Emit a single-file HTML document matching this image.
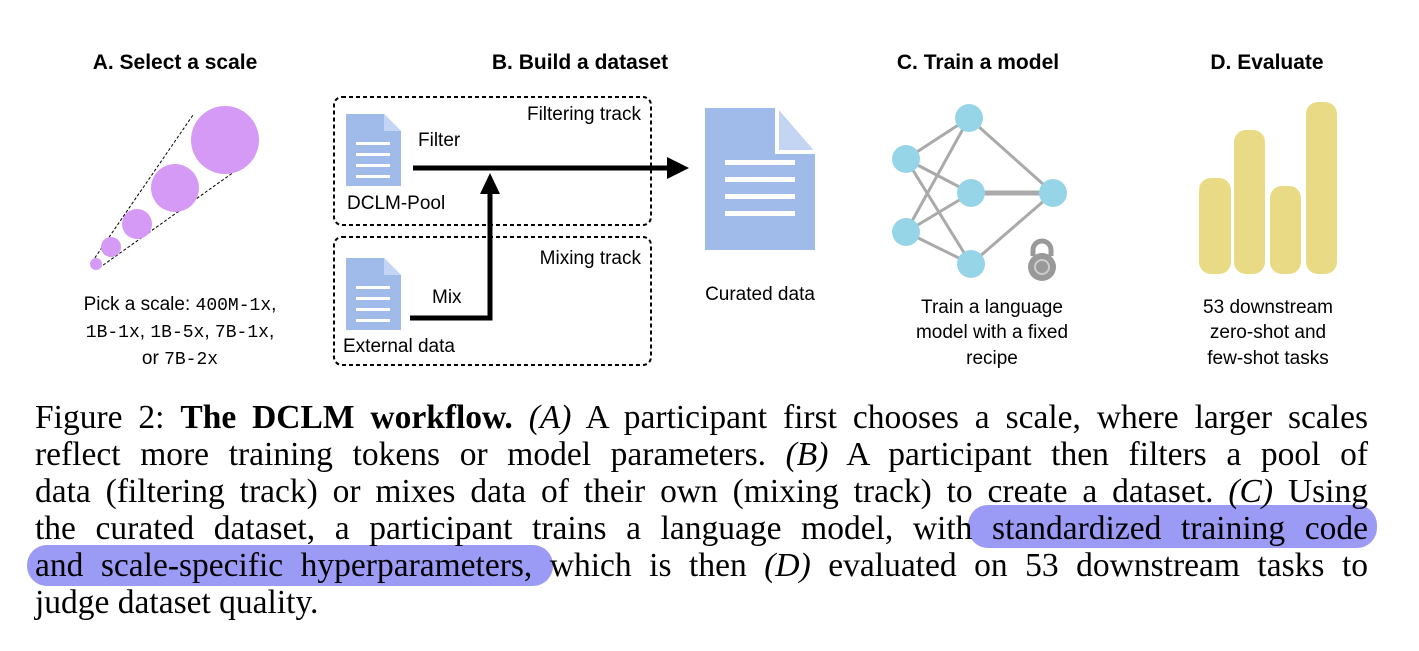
<!DOCTYPE html>
<html><head><meta charset="utf-8"><style>
body{margin:0;width:1419px;height:651px;background:#fff;position:relative;overflow:hidden;font-family:"Liberation Sans",sans-serif;}
svg{position:absolute;left:0;top:0}
.cap{position:absolute;left:35px;width:1333px;font-family:"Liberation Serif",serif;font-size:33.5px;line-height:37px;color:#000;white-space:nowrap;text-align:justify;text-align-last:justify;}
.hl{position:absolute;background:#9b9bf6;border-radius:20px;}
</style></head><body>
<div class="hl" style="left:968px;top:505px;width:409px;height:43px"></div>
<div class="hl" style="left:27px;top:545px;width:526px;height:41px"></div>
<svg width="1419" height="651" viewBox="0 0 1419 651" font-family="Liberation Sans, sans-serif">
<g font-weight="bold" font-size="21" text-anchor="middle">
<text x="175" y="69">A. Select a scale</text>
<text x="580" y="69">B. Build a dataset</text>
<text x="978" y="69">C. Train a model</text>
<text x="1267" y="69">D. Evaluate</text>
</g>
<line x1="92" y1="262" x2="193" y2="115" stroke="#000" stroke-dasharray="3,2" stroke-width="1"/>
<line x1="99" y1="268" x2="248" y2="162" stroke="#000" stroke-dasharray="3,2" stroke-width="1"/>
<g fill="#d59af5">
<circle cx="225" cy="140" r="34"/><circle cx="175" cy="188" r="24"/><circle cx="137" cy="224" r="15"/><circle cx="111" cy="247" r="10"/><circle cx="96" cy="264" r="6"/>
</g>
<g font-size="19" text-anchor="middle">
<text x="180" y="310">Pick a scale: <tspan font-family="Liberation Mono, monospace" font-size="18">400M-1x</tspan>,</text>
<text x="180" y="337"><tspan font-family="Liberation Mono, monospace" font-size="18">1B-1x</tspan>, <tspan font-family="Liberation Mono, monospace" font-size="18">1B-5x</tspan>, <tspan font-family="Liberation Mono, monospace" font-size="18">7B-1x</tspan>,</text>
<text x="180" y="364">or <tspan font-family="Liberation Mono, monospace" font-size="18">7B-2x</tspan></text>
</g>
<rect x="334" y="97" width="317" height="128" rx="8" fill="none" stroke="#000" stroke-width="2" stroke-dasharray="4,3"/>
<rect x="334" y="237" width="317" height="128" rx="8" fill="none" stroke="#000" stroke-width="2" stroke-dasharray="4,3"/>
<g fill="#a0bbea">
<path d="M346 114 H384 L401 131 V186 H346 Z"/>
<path d="M346 258 H384 L401 275 V330 H346 Z"/>
</g>
<g fill="#c4d4f3">
<path d="M384 114 L401 131 H384 Z"/><path d="M384 258 L401 275 H384 Z"/>
</g>
<g fill="#fff">
<rect x="356" y="142" width="34" height="3"/><rect x="356" y="153" width="34" height="3"/><rect x="356" y="164" width="34" height="3"/><rect x="356" y="175" width="34" height="3"/>
<rect x="356" y="286" width="34" height="3"/><rect x="356" y="297" width="34" height="3"/><rect x="356" y="308" width="34" height="3"/><rect x="356" y="319" width="34" height="3"/>
</g>
<g font-size="19">
<text x="641" y="120" text-anchor="end">Filtering track</text>
<text x="641" y="264" text-anchor="end">Mixing track</text>
<text x="418" y="146">Filter</text>
<text x="347" y="209">DCLM-Pool</text>
<text x="432" y="303">Mix</text>
<text x="343" y="352">External data</text>
</g>
<line x1="413" y1="168" x2="670" y2="168" stroke="#000" stroke-width="5"/>
<polygon points="667,157 689,168 667,179" fill="#000"/>
<polyline points="410,318 490,318 490,193" fill="none" stroke="#000" stroke-width="5"/>
<polygon points="480,194 490,173 500,194" fill="#000"/>
<path d="M705 108 H777 L815 152 V250 H705 Z" fill="#a0bbea"/>
<path d="M777 108 V152 H815" fill="#c4d4f3" stroke="#fff" stroke-width="4"/>
<g fill="#fff"><rect x="725" y="160" width="70" height="5"/><rect x="725" y="177" width="70" height="5"/><rect x="725" y="194" width="70" height="5"/><rect x="725" y="211" width="70" height="5"/></g>
<text x="760" y="300" font-size="19" text-anchor="middle">Curated data</text>
<g stroke="#aaa" stroke-width="3">
<line x1="906" y1="159" x2="969" y2="118"/><line x1="906" y1="159" x2="971" y2="193"/><line x1="906" y1="159" x2="971" y2="264"/>
<line x1="906" y1="232" x2="969" y2="118"/><line x1="906" y1="232" x2="971" y2="193"/><line x1="906" y1="232" x2="971" y2="264"/>
<line x1="969" y1="118" x2="1053" y2="193"/><line x1="971" y1="193" x2="1053" y2="193" stroke-width="5"/><line x1="971" y1="264" x2="1053" y2="193"/>
</g>
<g fill="#96d5e8">
<circle cx="906" cy="159" r="14"/><circle cx="906" cy="232" r="14"/><circle cx="969" cy="118" r="14"/><circle cx="971" cy="193" r="14"/><circle cx="971" cy="264" r="14"/><circle cx="1053" cy="193" r="14"/>
</g>
<path d="M1033 256 V250 A9 9 0 0 1 1051 250 V256" fill="none" stroke="#999" stroke-width="5"/>
<circle cx="1042" cy="267" r="14" fill="#999"/><circle cx="1042" cy="267" r="7" fill="none" stroke="#ccc" stroke-width="2"/>
<g font-size="19" text-anchor="middle">
<text x="992" y="313">Train a language</text><text x="992" y="338">model with a fixed</text><text x="992" y="364">recipe</text>
</g>
<g fill="#e9da85">
<rect x="1199" y="178" width="32" height="96" rx="12"/><rect x="1234" y="130" width="31" height="144" rx="12"/><rect x="1270" y="186" width="31" height="88" rx="12"/><rect x="1306" y="102" width="31" height="172" rx="12"/>
</g>
<g font-size="19" text-anchor="middle">
<text x="1268" y="313">53 downstream</text><text x="1268" y="338">zero-shot and</text><text x="1268" y="364">few-shot tasks</text>
</g>
</svg>
<div class="cap" style="top:399px">Figure 2: <b>The DCLM workflow.</b> <i>(A)</i> A participant first chooses a scale, where larger scales</div>
<div class="cap" style="top:436px">reflect more training tokens or model parameters. <i>(B)</i> A participant then filters a pool of</div>
<div class="cap" style="top:473px">data (filtering track) or mixes data of their own (mixing track) to create a dataset. <i>(C)</i> Using</div>
<div class="cap" style="top:510px">the curated dataset, a participant trains a language model, with standardized training code</div>
<div class="cap" style="top:547px">and scale-specific hyperparameters, which is then <i>(D)</i> evaluated on 53 downstream tasks to</div>
<div class="cap" style="top:584px;text-align:left;text-align-last:left">judge dataset quality.</div>
</body></html>
